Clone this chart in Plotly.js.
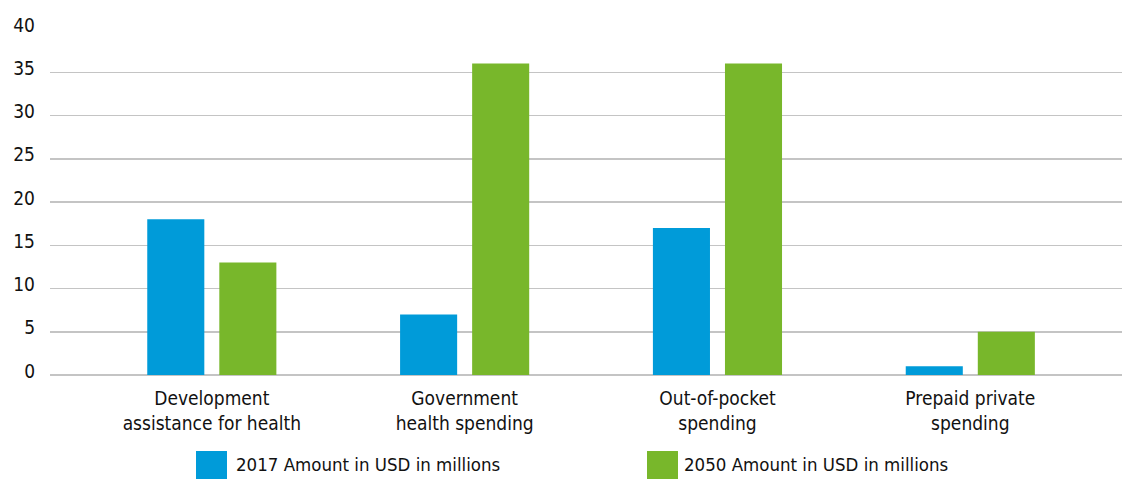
<!DOCTYPE html>
<html>
<head>
<meta charset="utf-8">
<script src="https://cdn.plot.ly/plotly-3.0.1.min.js"></script>
<style>html,body{margin:0;padding:0;background:#fff;}#chart{width:1132px;height:479px;}</style>
</head>
<body>
<div id="chart"></div>
<script>
const categories = ["Development<br>assistance for health", "Government<br>health spending", "Out-of-pocket<br>spending", "Prepaid private<br>spending"];
const series2017 = [18, 7, 17, 1];
const series2050 = [13, 36, 36, 5];
const seriesNames = ["2017 Amount in USD in millions", "2050 Amount in USD in millions"];
const seriesColors = ["#009bd9", "#78b72b"];
const yTicks = [0, 5, 10, 15, 20, 25, 30, 35, 40];

const FONT = '"DejaVu Sans Condensed", "Liberation Sans Narrow", sans-serif';

const traces = [
  {type: 'bar', x: categories, y: series2017, name: seriesNames[0], marker: {color: seriesColors[0]}, showlegend: false, hoverinfo: 'y'},
  {type: 'bar', x: categories, y: series2050, name: seriesNames[1], marker: {color: seriesColors[1]}, showlegend: false, hoverinfo: 'y'}
];

const legendSquare = [[0.1362, 0.1651], [0.5569, 0.5858]];
const legendText = [0.1726, 0.5905];
const shapes = [];
const annotations = [];
seriesNames.forEach((n, i) => {
  shapes.push({type: 'rect', xref: 'paper', yref: 'paper', x0: legendSquare[i][0], x1: legendSquare[i][1], y0: -0.301, y1: -0.2197, fillcolor: seriesColors[i], line: {width: 0}});
  annotations.push({xref: 'paper', yref: 'paper', x: legendText[i], y: -0.258, xanchor: 'left', yanchor: 'middle', borderpad: 0, text: n, showarrow: false, font: {family: FONT, size: 18.5, color: '#111'}});
});

const layout = {
  width: 1132, height: 479,
  margin: {l: 50, r: 10, t: 29, b: 104},
  paper_bgcolor: '#fff', plot_bgcolor: '#fff',
  barmode: 'group', bargap: 0.43, bargroupgap: 0.208,
  font: {family: FONT, size: 19, color: '#111'},
  xaxis: {type: 'category', range: [-0.64, 3.6], showgrid: false, zeroline: false, showline: false, ticks: '', ticklabelstandoff: 10, tickfont: {family: FONT, size: 19, color: '#111'}, fixedrange: true},
  yaxis: {range: [0, 40], tickvals: yTicks, ticktext: yTicks.map(String), showgrid: true, gridcolor: '#c4c4c4', gridwidth: 1.5, zeroline: true, zerolinecolor: '#c4c4c4', zerolinewidth: 1.5, showline: false, ticks: '', ticklabelstandoff: 14, ticklabelshift: -4, tickfont: {family: FONT, size: 19, color: '#111'}, fixedrange: true},
  shapes: shapes,
  annotations: annotations,
  showlegend: false
};

Plotly.newPlot('chart', traces, layout, {displayModeBar: false, staticPlot: true});
</script>
</body>
</html>
